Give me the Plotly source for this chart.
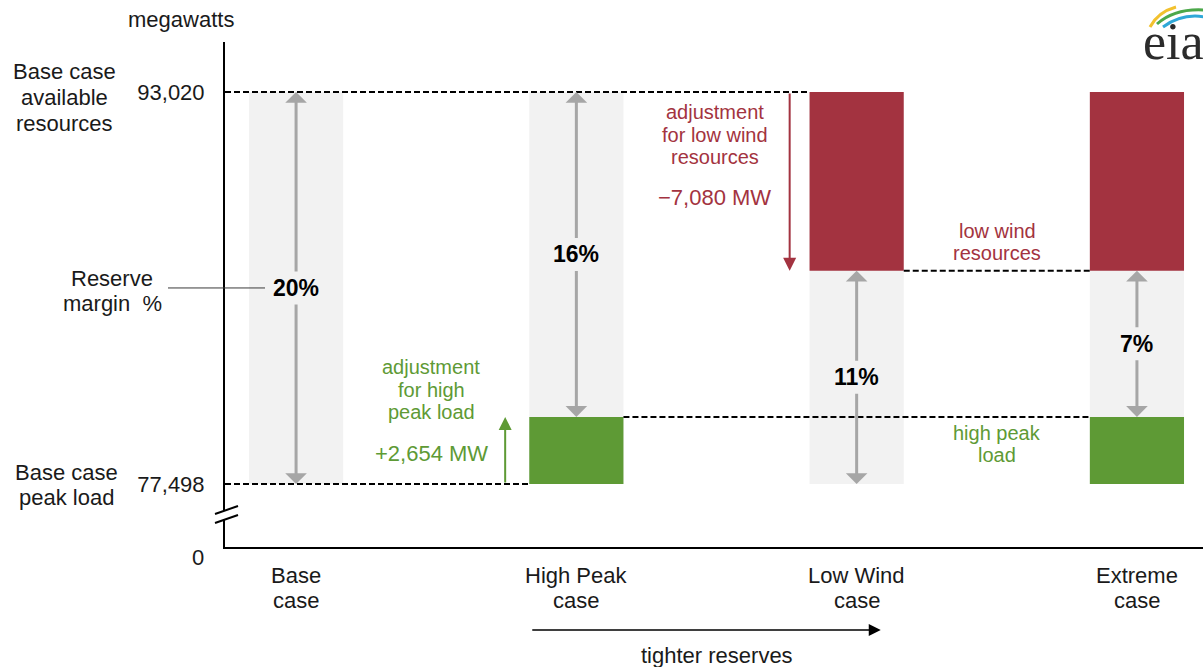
import plotly.graph_objects as go

# ---- data -------------------------------------------------------------
cases = ["Base case", "High Peak case", "Low Wind case", "Extreme case"]
case_labels = [["Base", "case"], ["High Peak", "case"], ["Low Wind", "case"], ["Extreme", "case"]]
base_peak_load = 77498          # MW
base_available = 93020          # MW
peak_load_adjustment = 2654     # MW added to peak load
wind_adjustment = -7080         # MW removed from available resources
peak_load = [77498, 80152, 77498, 80152]
available = [93020, 93020, 85940, 85940]
high_load_cases = [1, 3]
low_wind_cases = [2, 3]

reserve_margin = [round((a - l) / l * 100) for a, l in zip(available, peak_load)]

# ---- style / geometry -------------------------------------------------
W, H = 1203, 667
ML, MR, MT, MB = 225, 0, 42, 120
PW, PH = W - ML - MR, H - MT - MB
X_RANGE = [-0.2536, 3.2357]
Y_RANGE = [75000, 95000]
BAR_W = 0.336

FONT = "Liberation Sans, Arial, sans-serif"
INK = "#1a1a1a"
GRAY_BAR = "#f2f2f2"
GRAY_ARROW = "#a6a6a6"
RED = "#a33340"
GREEN = "#5e9a35"


def px(x):
    """page pixel -> paper x"""
    return (x - ML) / PW


def py(y):
    """page pixel -> paper y"""
    return (H - MB - y) / PH


def y_paper(v):
    return (v - Y_RANGE[0]) / (Y_RANGE[1] - Y_RANGE[0])


x = list(range(len(cases)))
fig = go.Figure()

# grey reserve-margin columns
fig.add_bar(x=x, y=[base_available - base_peak_load] * len(x), base=[base_peak_load] * len(x),
            width=BAR_W, marker=dict(color=GRAY_BAR, line=dict(width=0)), hoverinfo="skip")
# high peak load increment
fig.add_bar(x=high_load_cases, y=[peak_load_adjustment] * len(high_load_cases),
            base=[base_peak_load] * len(high_load_cases),
            width=BAR_W, marker=dict(color=GREEN, line=dict(width=0)), hoverinfo="skip")
# low wind decrement
fig.add_bar(x=low_wind_cases, y=[-wind_adjustment] * len(low_wind_cases),
            base=[base_available + wind_adjustment] * len(low_wind_cases),
            width=BAR_W, marker=dict(color=RED, line=dict(width=0)), hoverinfo="skip")

# dashed reference levels
dash = dict(color="black", width=2, dash="6px,3px")
levels = [
    (base_available, X_RANGE[0], 2 - BAR_W / 2),
    (base_peak_load, X_RANGE[0], 1 - BAR_W / 2),
    (peak_load[1], 1 + BAR_W / 2, 3 - BAR_W / 2),
    (available[2], 2 + BAR_W / 2, 3 - BAR_W / 2),
]
for yv, x0, x1 in levels:
    fig.add_shape(type="line", xref="x", yref="y", x0=x0, x1=x1, y0=yv, y1=yv, line=dash)

# double-headed reserve margin arrows with percentage labels
for i, (lo, hi, pct) in enumerate(zip(peak_load, available, reserve_margin)):
    mid = (lo + hi) / 2
    for tip, col in ((hi, "black"), (lo, "rgba(0,0,0,0)")):
        fig.add_annotation(
            x=i, y=tip, ax=i, ay=mid, xref="x", yref="y", axref="x", ayref="y",
            text=f"<b>{pct}%</b>", font=dict(family=FONT, size=23, color=col),
            showarrow=True, arrowhead=1, arrowsize=1.2, arrowwidth=3,
            arrowcolor=GRAY_ARROW, borderpad=3,
        )

# adjustment arrows
fig.add_annotation(x=0.746, y=base_peak_load + peak_load_adjustment, ax=0.746, ay=base_peak_load,
                   xref="x", yref="y", axref="x", ayref="y", text="", showarrow=True,
                   arrowhead=2, arrowsize=1.3, arrowwidth=2, arrowcolor=GREEN)
fig.add_annotation(x=1.761, y=base_available + wind_adjustment, ax=1.761, ay=base_available,
                   xref="x", yref="y", axref="x", ayref="y", text="", showarrow=True,
                   arrowhead=2, arrowsize=1.3, arrowwidth=2, arrowcolor=RED)


def text_lines(lines, xc, ys, size=22, color=INK, xref="paper"):
    xv = px(xc) if xref == "paper" else xc
    for line, yp in zip(lines, ys):
        fig.add_annotation(x=xv, y=py(yp), xref=xref, yref="paper", text=line, showarrow=False,
                           font=dict(family=FONT, size=size, color=color),
                           xanchor="center", yanchor="middle")


# left-hand labels
text_lines(["megawatts"], 181, [20])
text_lines(["Base case", "available", "resources"], 64, [71, 97, 123])
text_lines(["Reserve", "margin\u00a0 %"], 112, [278, 303])
text_lines(["Base case", "peak load"], 66, [472, 497])
text_lines(["0"], 198, [557])
fig.add_shape(type="line", xref="paper", yref="paper",
              x0=px(168), x1=px(265),
              y0=y_paper((peak_load[0] + available[0]) / 2), y1=y_paper((peak_load[0] + available[0]) / 2),
              line=dict(color="#3a3a3a", width=1))

# adjustment notes
text_lines(["adjustment", "for high", "peak load"], 431, [367, 390, 412], size=20, color=GREEN)
text_lines([f"+{peak_load_adjustment:,} MW"], 431, [453], color=GREEN)
text_lines(["adjustment", "for low wind", "resources"], 715, [112, 135, 157], size=20, color=RED)
text_lines([f"\u2212{abs(wind_adjustment):,} MW"], 714, [197], color=RED)
text_lines(["low wind", "resources"], 997, [231, 253], size=20, color=RED)
text_lines(["high peak", "load"], 997, [433, 455], size=20, color=GREEN)

# category labels
for i, lab in enumerate(case_labels):
    text_lines(lab, i, [575, 600], xref="x")

# tighter reserves arrow
fig.add_annotation(x=2.086, y=py(630), xref="x", yref="paper", ax=-350, ay=0,
                   axref="pixel", ayref="pixel", text="", showarrow=True,
                   arrowhead=2, arrowsize=1.6, arrowwidth=1.5, arrowcolor="black")
text_lines(["tighter reserves"], 1.5, [655], xref="x")

# axis break
fig.add_shape(type="rect", xref="paper", yref="paper", x0=px(221), x1=px(229), y0=py(519), y1=py(510),
              line=dict(width=0), fillcolor="white")
for y0p, y1p in ((514, 506), (523, 515)):
    fig.add_shape(type="line", xref="paper", yref="paper", x0=px(215), x1=px(238),
                  y0=py(y0p), y1=py(y1p), line=dict(color="black", width=2))


# logo
def arc(p0, c, p1):
    return (f"M {px(p0[0])},{py(p0[1])} Q {px(c[0])},{py(c[1])} {px(p1[0])},{py(p1[1])}")


for p0, c, p1, col in (((1150, 27), (1158, 12), (1176, 7), "#f2c12e"),
                       ((1157, 24), (1175, 8), (1205, 10), "#4ca84a"),
                       ((1163, 27), (1182, 13), (1205, 17), "#2fa8d8")):
    fig.add_shape(type="path", xref="paper", yref="paper", path=arc(p0, c, p1),
                  line=dict(color=col, width=3))
fig.add_annotation(x=px(1141), y=py(41), xref="paper", yref="paper", text="eia", showarrow=False,
                   xanchor="left", yanchor="middle",
                   font=dict(family="Liberation Serif, serif", size=52, color="#2b2b2b"))

fig.update_layout(
    width=W, height=H, margin=dict(l=ML, r=MR, t=MT, b=MB),
    paper_bgcolor="white", plot_bgcolor="white",
    barmode="overlay", showlegend=False,
    xaxis=dict(range=X_RANGE, showline=True, linecolor="black", linewidth=2,
               showgrid=False, zeroline=False, showticklabels=False, ticks="", fixedrange=True),
    yaxis=dict(range=Y_RANGE, showline=True, linecolor="black", linewidth=2,
               showgrid=False, zeroline=False, ticks="",
               tickvals=[base_peak_load, base_available],
               ticktext=[f"{base_peak_load:,}", f"{base_available:,}"],
               tickfont=dict(family=FONT, size=22, color=INK),
               ticklabelstandoff=14, fixedrange=True),
)

fig.write_html("out.html", config={"displayModeBar": False})
